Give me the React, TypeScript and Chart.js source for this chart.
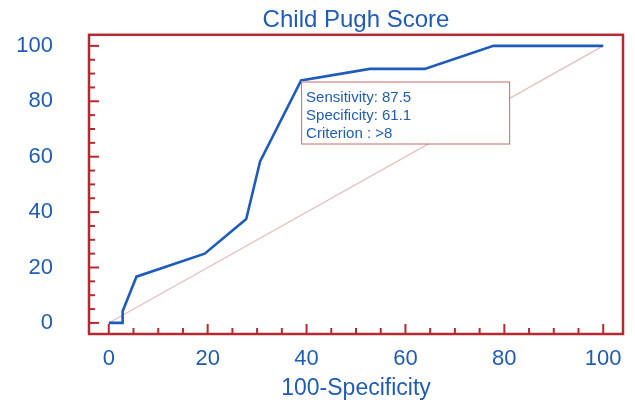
import React, { useEffect, useRef } from "react";
import { Chart, registerables } from "chart.js";

Chart.register(...registerables);

// ROC curve points: 100-Specificity (x) vs Sensitivity (y)
const fprValues = [0, 2.8, 2.8, 5.6, 19.4, 27.8, 30.6, 38.9, 52.8, 63.9, 77.8, 100];
const sensValues = [0, 0, 4.2, 16.7, 25.0, 37.5, 58.3, 87.5, 91.7, 91.7, 100, 100];

// Reference (chance) diagonal
const refX = [0, 100];
const refY = [0, 100];

// Axis tick labels
const xTicks = [0, 20, 40, 60, 80, 100];
const yTicks = [0, 20, 40, 60, 80, 100];
const minorStep = 5;

// Optimal criterion annotation
const critX = 38.9;
const critY = 87.5;
const critLines = ["Sensitivity: 87.5", "Specificity: 61.1", "Criterion : >8"];

const chartTitle = "Child Pugh Score";
const xTitle = "100-Specificity";

const BLUE = "#1d5cbc";
const TEXT_BLUE = "#1f5cb6";
const RED = "#b42a30";
const PINK = "#e9bcbc";
const FONT = "'Liberation Sans', Arial, Helvetica, sans-serif";

const framePlugin = {
  id: "frameTicks",
  beforeDatasetsDraw(chart: any) {
    const { ctx, chartArea, scales } = chart;
    const xs = scales.x;
    const ys = scales.y;
    ctx.save();
    ctx.strokeStyle = RED;
    ctx.lineWidth = 2.5;
    ctx.strokeRect(chartArea.left, chartArea.top, chartArea.right - chartArea.left, chartArea.bottom - chartArea.top);
    ctx.lineWidth = 2;
    const xmin = xTicks[0];
    const xmax = xTicks[xTicks.length - 1];
    for (let v = xmin; v <= xmax + 0.001; v += minorStep) {
      const major = xTicks.includes(v);
      const px = xs.getPixelForValue(v);
      ctx.beginPath();
      ctx.moveTo(px, chartArea.bottom);
      ctx.lineTo(px, chartArea.bottom - (major ? 10 : 6));
      ctx.stroke();
    }
    const ymin = yTicks[0];
    const ymax = yTicks[yTicks.length - 1];
    for (let v = ymin; v <= ymax + 0.001; v += minorStep) {
      const major = yTicks.includes(v);
      const py = ys.getPixelForValue(v);
      ctx.beginPath();
      ctx.moveTo(chartArea.left, py);
      ctx.lineTo(chartArea.left + (major ? 10 : 6), py);
      ctx.stroke();
    }
    ctx.restore();
  },
  afterDatasetsDraw(chart: any) {
    const { ctx, scales } = chart;
    const px = scales.x.getPixelForValue(critX);
    const py = scales.y.getPixelForValue(critY);
    const w = 208;
    const h = 62;
    ctx.save();
    ctx.fillStyle = "#ffffff";
    ctx.fillRect(px, py + 1, w, h);
    ctx.strokeStyle = "#c96a6a";
    ctx.lineWidth = 1;
    ctx.strokeRect(px + 0.5, py + 1.5, w, h);
    ctx.fillStyle = TEXT_BLUE;
    ctx.font = `15px ${FONT}`;
    ctx.textBaseline = "middle";
    ctx.textAlign = "left";
    critLines.forEach((t, i) => {
      ctx.fillText(t, px + 5, py + 17.5 + i * 18);
    });
    ctx.restore();
  },
};

export default function App() {
  const ref = useRef<HTMLCanvasElement | null>(null);
  useEffect(() => {
    if (!ref.current) return;
    document.body.style.margin = "0";
    const rocData = fprValues.map((x, i) => ({ x, y: sensValues[i] }));
    const diagData = refX.map((x, i) => ({ x, y: refY[i] }));
    const chart = new Chart(ref.current, {
      type: "scatter",
      data: {
        datasets: [
          {
            data: diagData,
            showLine: true,
            borderColor: PINK,
            borderWidth: 1.2,
            pointRadius: 0,
            order: 2,
          },
          {
            data: rocData,
            showLine: true,
            borderColor: BLUE,
            borderWidth: 2.6,
            pointRadius: 0,
            order: 1,
          },
        ],
      },
      options: {
        responsive: false,
        animation: false,
        layout: { padding: { top: 0, right: 12, bottom: 0, left: 0 } },
        plugins: {
          legend: { display: false },
          tooltip: { enabled: false },
          title: {
            display: true,
            text: chartTitle,
            color: TEXT_BLUE,
            fullSize: false,
            font: { family: FONT, size: 24, weight: "normal" },
            padding: { top: 6, bottom: 0 },
          },
        },
        scales: {
          x: {
            type: "linear",
            min: -4,
            max: 104,
            grid: { display: false },
            border: { display: false },
            afterBuildTicks: (axis: any) => {
              axis.ticks = xTicks.map((v) => ({ value: v }));
            },
            afterFit: (s: any) => {
              s.height = 71;
              s.paddingLeft = 0;
              s.paddingRight = 0;
              s.paddingTop = 0;
              s.paddingBottom = 0;
            },
            ticks: {
              color: TEXT_BLUE,
              padding: 4,
              maxRotation: 0,
              autoSkip: false,
              font: { family: FONT, size: 22 },
            },
            title: {
              display: true,
              text: xTitle,
              color: TEXT_BLUE,
              font: { family: FONT, size: 23 },
              padding: { top: 0, bottom: 3 },
            },
          },
          y: {
            type: "linear",
            min: -4,
            max: 104,
            grid: { display: false },
            border: { display: false },
            afterBuildTicks: (axis: any) => {
              axis.ticks = yTicks.map((v) => ({ value: v }));
            },
            afterFit: (s: any) => {
              s.width = 89;
              s.paddingLeft = 0;
              s.paddingRight = 0;
              s.paddingTop = 0;
              s.paddingBottom = 0;
            },
            ticks: {
              color: TEXT_BLUE,
              padding: 28,
              autoSkip: false,
              font: { family: FONT, size: 22 },
            },
          },
        },
      },
      plugins: [framePlugin],
    });
    return () => chart.destroy();
  }, []);
  return (
    <div style={{ position: "absolute", left: 0, top: 0, width: 635, height: 405, background: "#fff" }}>
      <canvas ref={ref} width={635} height={405} style={{ display: "block" }} />
    </div>
  );
}
